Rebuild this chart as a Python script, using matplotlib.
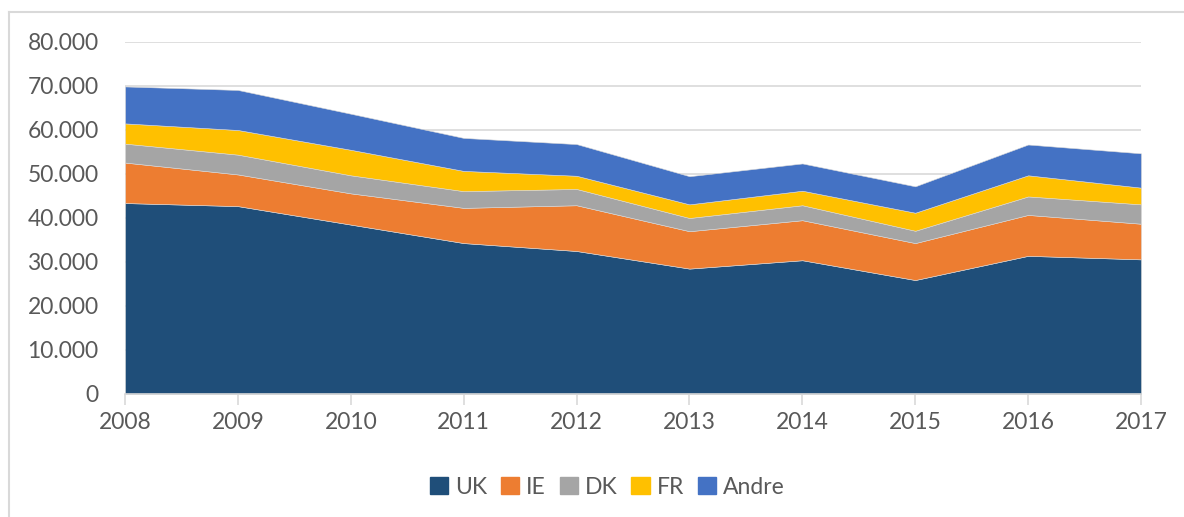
import matplotlib.pyplot as plt
from matplotlib.ticker import FuncFormatter
from matplotlib.lines import Line2D
from matplotlib.patches import Patch

years = [2008, 2009, 2010, 2011, 2012, 2013, 2014, 2015, 2016, 2017]
uk = [43400, 42700, 38500, 34300, 32500, 28500, 30400, 25900, 31400, 30600]
ie = [9200, 7200, 7100, 8000, 10400, 8500, 9100, 8400, 9300, 8100]
dk = [4300, 4500, 4100, 3800, 3700, 3000, 3400, 2800, 4200, 4400]
fr = [4600, 5600, 5800, 4600, 3000, 3100, 3300, 4100, 4800, 3800]
andre = [8400, 9100, 8200, 7500, 7200, 6400, 6200, 6000, 7000, 7800]

labels = ["UK", "IE", "DK", "FR", "Andre"]
colors = ["#1f4e79", "#ed7d31", "#a5a5a5", "#ffc000", "#4472c4"]

plt.rcParams['font.family'] = ['Lato', 'DejaVu Sans']

fig = plt.figure(figsize=(11.84, 5.17), dpi=100)
ax = fig.add_axes([125 / 1184, 1 - 394 / 517, (1141 - 125) / 1184, (394 - 42) / 517])

ax.stackplot(years, uk, ie, dk, fr, andre, colors=colors, labels=labels,
             edgecolor="#d9d9d9", linewidth=0.4, zorder=2)

ax.set_xlim(2008, 2017)
ax.set_ylim(0, 80000)
ax.set_yticks(range(0, 80001, 10000))
ax.set_xticks(years)
ax.yaxis.set_major_formatter(FuncFormatter(lambda v, p: f"{int(v):,}".replace(",", ".")))
ax.grid(axis="y", color="#d9d9d9", linewidth=1.2, zorder=0)
ax.set_axisbelow(True)

for s in ["top", "right", "left"]:
    ax.spines[s].set_visible(False)
ax.spines["bottom"].set_color("#d9d9d9")
ax.spines["bottom"].set_linewidth(1.2)
ax.spines["bottom"].set_zorder(3)

ax.tick_params(axis="y", length=0, pad=19, labelsize=16.5, labelcolor="#595959")
ax.tick_params(axis="x", length=8, width=1.2, color="#d9d9d9", pad=5,
               labelsize=16.5, labelcolor="#595959")

handles = [Patch(color=c, label=l) for c, l in zip(colors, labels)]
fig.legend(handles=handles, loc="center", bbox_to_anchor=(0.513, 1 - 487 / 517),
           ncol=5, frameon=False, fontsize=16.5, labelcolor="#595959",
           handlelength=0.8, handleheight=0.8, handletextpad=0.3, columnspacing=0.6)

# chart border
fig.add_artist(Line2D([9 / 1184, 9 / 1184], [0, 1 - 12 / 517], color="#d9d9d9", linewidth=1.5))
fig.add_artist(Line2D([9 / 1184, 1], [1 - 12 / 517, 1 - 12 / 517], color="#d9d9d9", linewidth=1.5))

fig.savefig("out.png", dpi=100)
